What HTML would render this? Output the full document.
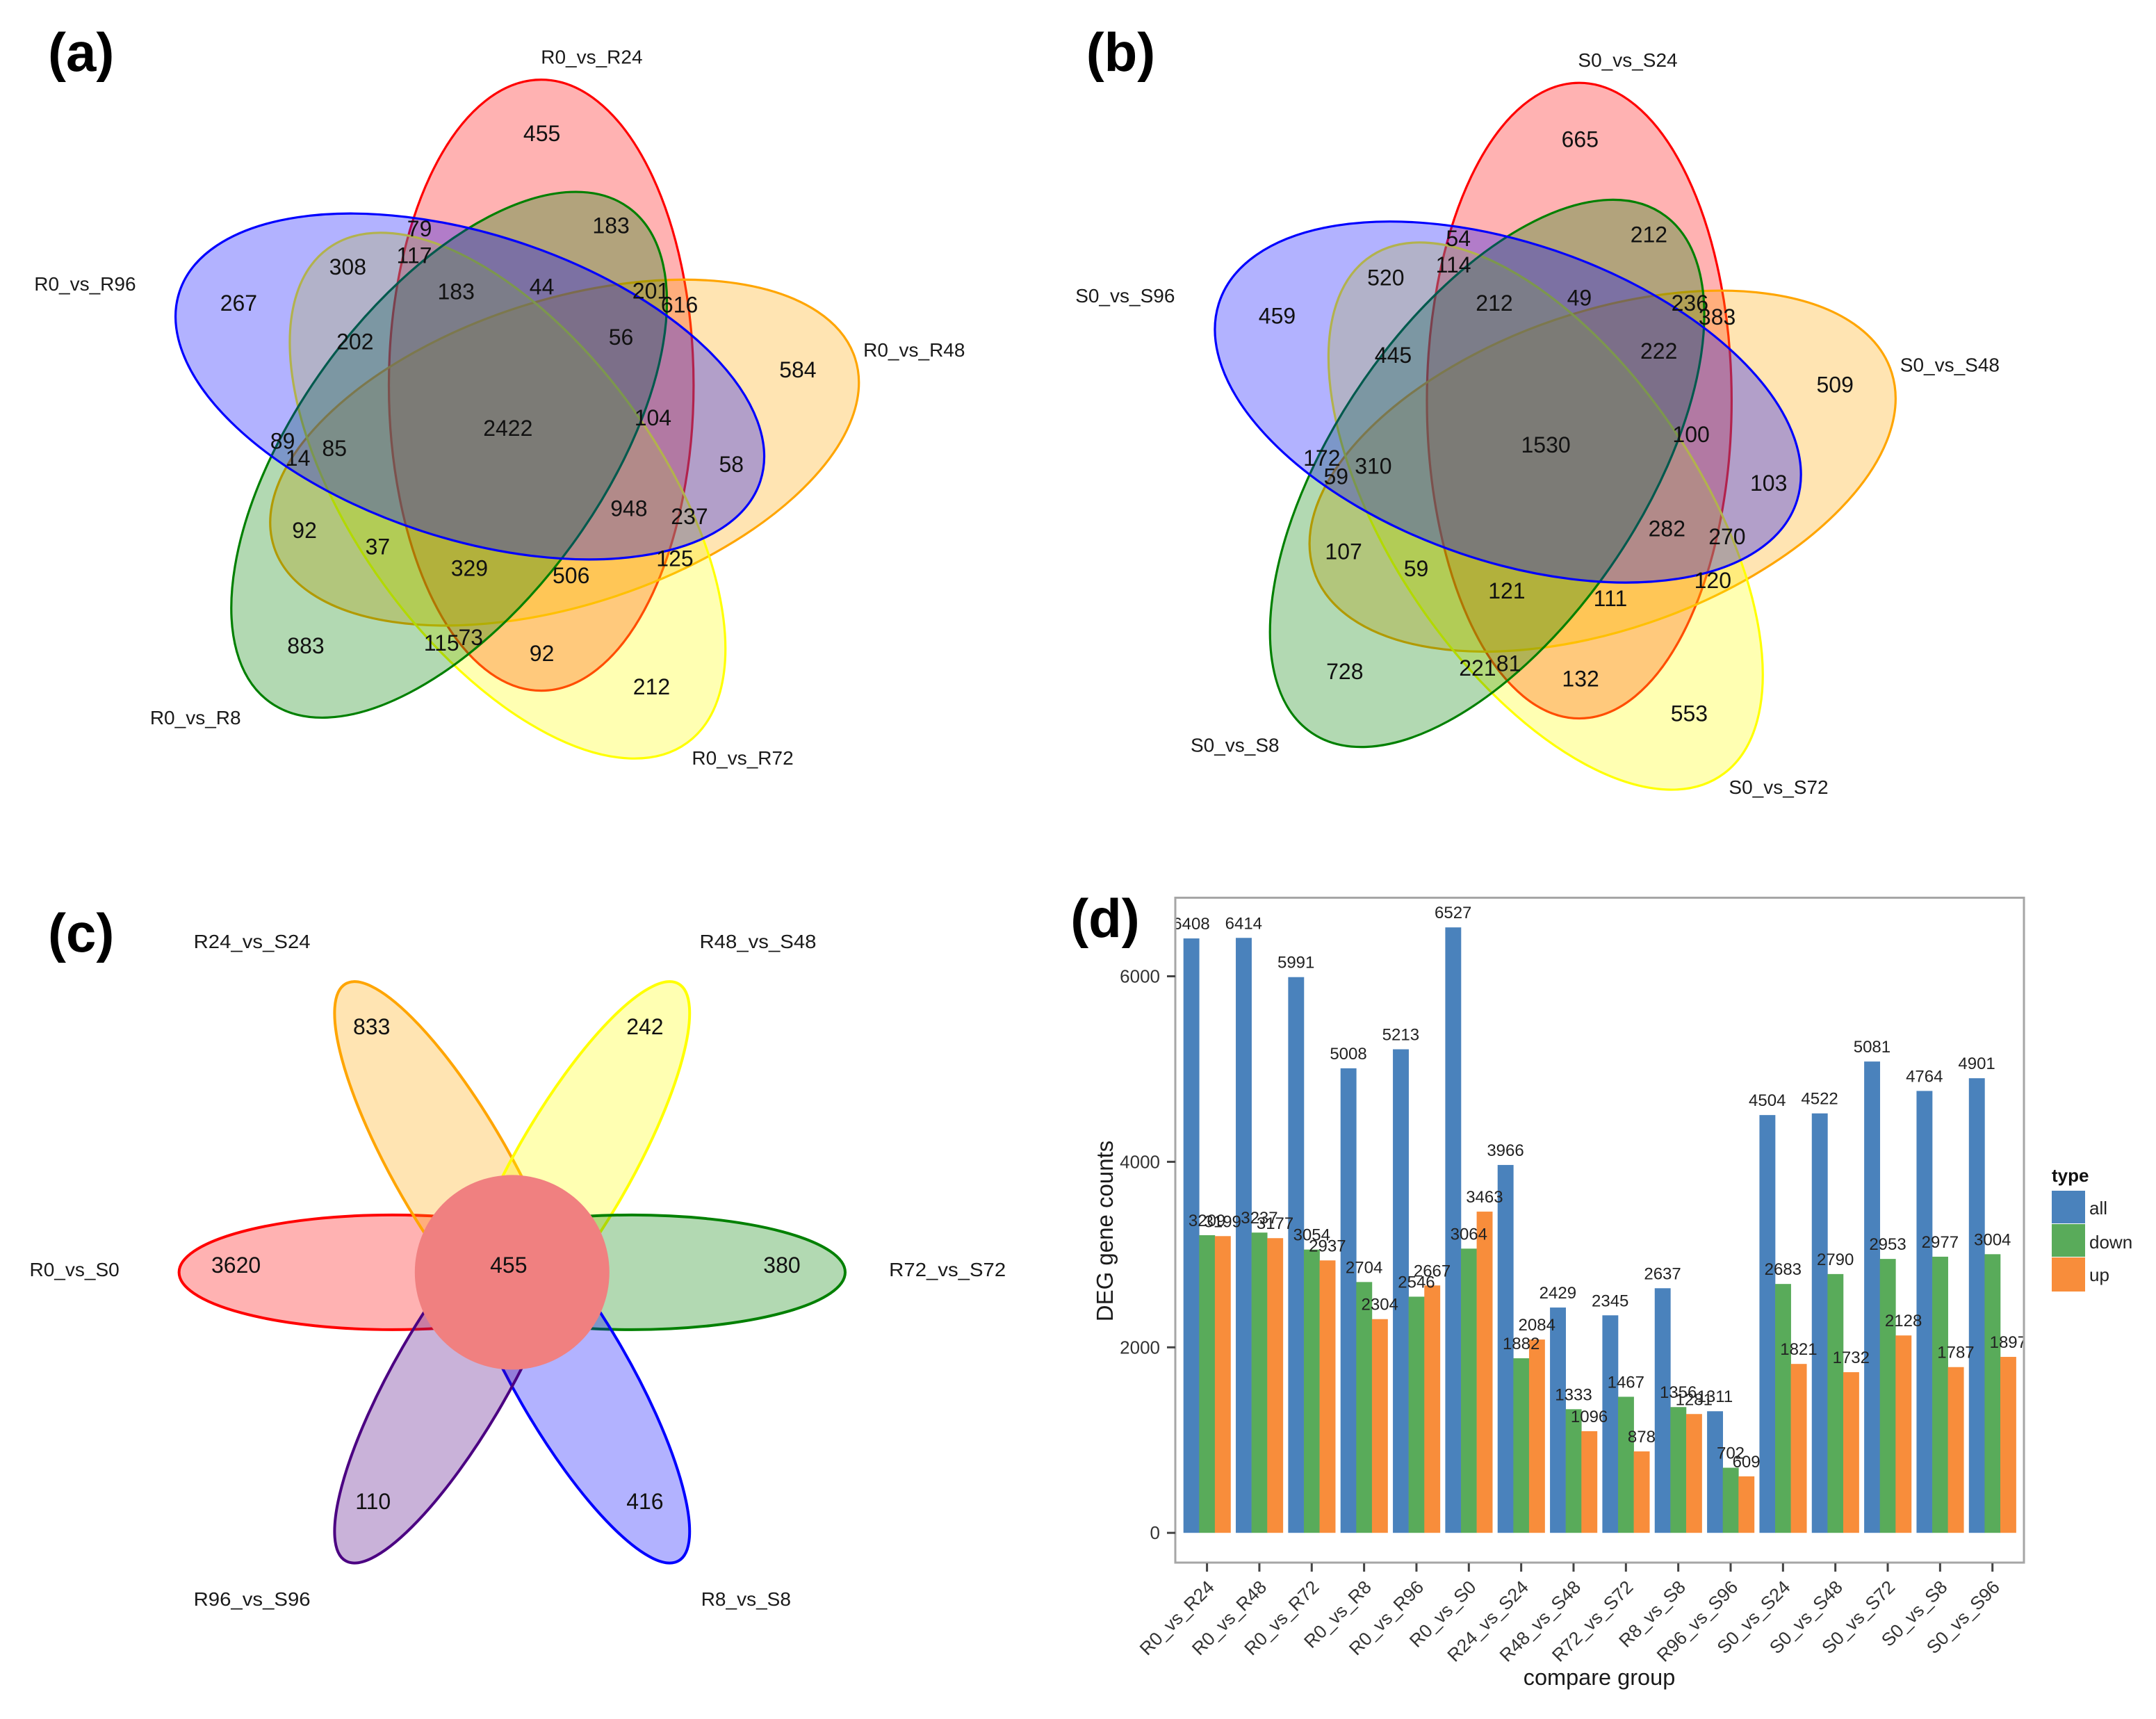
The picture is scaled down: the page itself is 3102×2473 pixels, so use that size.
<!DOCTYPE html>
<html>
<head>
<meta charset="utf-8">
<title>Venn diagrams and DEG gene counts</title>
<style>
html,body{margin:0;padding:0;background:#fff;}
svg{display:block;}
text{font-family:"Liberation Sans",sans-serif;}
.num{font-size:32px;fill:#111;text-anchor:middle;dominant-baseline:central;}
.lab{font-size:28px;fill:#1a1a1a;text-anchor:middle;dominant-baseline:central;}
.pan{font-size:78px;font-weight:bold;fill:#000;text-anchor:middle;dominant-baseline:central;}
.e{stroke-width:3.2;vector-effect:non-scaling-stroke;}
.p{stroke-width:4;}
</style>
</head>
<body>
<svg id="figure" xmlns="http://www.w3.org/2000/svg" width="3102" height="2473" viewBox="0 0 3102 2473">
<rect width="3102" height="2473" fill="#fff"/>

<!-- PANEL A -->
<g>
<g transform="translate(728.7,625.7)">
<ellipse class="e" cx="50" cy="-71.6" rx="219.2" ry="439.5" fill="#ff0000" fill-opacity=".3" stroke="#ff0000"/>
<ellipse class="e" cx="50" cy="-71.6" rx="219.2" ry="439.5" transform="rotate(72)" fill="#ffa500" fill-opacity=".3" stroke="#ffa500"/>
<ellipse class="e" cx="50" cy="-71.6" rx="219.2" ry="439.5" transform="rotate(144)" fill="#ffff00" fill-opacity=".3" stroke="#ffff00"/>
<ellipse class="e" cx="50" cy="-71.6" rx="219.2" ry="439.5" transform="rotate(216)" fill="#008000" fill-opacity=".3" stroke="#008000"/>
<ellipse class="e" cx="50" cy="-71.6" rx="219.2" ry="439.5" transform="rotate(288)" fill="#0000ff" fill-opacity=".3" stroke="#0000ff"/>
</g>
<text class="pan" x="116.7" y="75">(a)</text>
<text class="lab" x="851.4" y="81.9">R0_vs_R24</text>
<text class="lab" x="122.4" y="408.7">R0_vs_R96</text>
<text class="lab" x="1315.3" y="503.6">R0_vs_R48</text>
<text class="lab" x="281.2" y="1032.4">R0_vs_R8</text>
<text class="lab" x="1068.5" y="1090.5">R0_vs_R72</text>
<g>
<text class="num" x="779.6" y="192.1">455</text>
<text class="num" x="879.1" y="324.5">183</text>
<text class="num" x="603.6" y="329.1">79</text>
<text class="num" x="596" y="367.3">117</text>
<text class="num" x="500.3" y="384.2">308</text>
<text class="num" x="656.2" y="419.4">183</text>
<text class="num" x="779.6" y="412.5">44</text>
<text class="num" x="936.5" y="418.6">201</text>
<text class="num" x="977.6" y="438.5">616</text>
<text class="num" x="343.4" y="436.2">267</text>
<text class="num" x="510.8" y="491.3">202</text>
<text class="num" x="893.5" y="485.2">56</text>
<text class="num" x="1147.9" y="531.9">584</text>
<text class="num" x="939.4" y="600.8">104</text>
<text class="num" x="730.8" y="616.1">2422</text>
<text class="num" x="406.6" y="634.4">89</text>
<text class="num" x="428.6" y="658.9">14</text>
<text class="num" x="481.2" y="645.2">85</text>
<text class="num" x="1052.3" y="668.1">58</text>
<text class="num" x="904.9" y="731.6">948</text>
<text class="num" x="992" y="743.1">237</text>
<text class="num" x="438.1" y="763">92</text>
<text class="num" x="543.4" y="786.7">37</text>
<text class="num" x="971" y="803.6">125</text>
<text class="num" x="675.4" y="817.3">329</text>
<text class="num" x="821.7" y="828.1">506</text>
<text class="num" x="440" y="929.1">883</text>
<text class="num" x="635.2" y="925.2">115</text>
<text class="num" x="677.3" y="916.8">73</text>
<text class="num" x="779.6" y="939.8">92</text>
<text class="num" x="937.5" y="988">212</text>
</g>
</g>

<!-- PANEL B -->
<g>
<g transform="translate(2222.2,651.2) scale(1,1.045)">
<ellipse class="e" cx="50" cy="-71.6" rx="219.2" ry="437.5" fill="#ff0000" fill-opacity=".3" stroke="#ff0000"/>
<ellipse class="e" cx="50" cy="-71.6" rx="219.2" ry="437.5" transform="rotate(72)" fill="#ffa500" fill-opacity=".3" stroke="#ffa500"/>
<ellipse class="e" cx="50" cy="-71.6" rx="219.2" ry="437.5" transform="rotate(144)" fill="#ffff00" fill-opacity=".3" stroke="#ffff00"/>
<ellipse class="e" cx="50" cy="-71.6" rx="219.2" ry="437.5" transform="rotate(216)" fill="#008000" fill-opacity=".3" stroke="#008000"/>
<ellipse class="e" cx="50" cy="-71.6" rx="219.2" ry="437.5" transform="rotate(288)" fill="#0000ff" fill-opacity=".3" stroke="#0000ff"/>
</g>
<text class="pan" x="1612.5" y="75">(b)</text>
<text class="lab" x="2342" y="86.5">S0_vs_S24</text>
<text class="lab" x="1618.8" y="425.5">S0_vs_S96</text>
<text class="lab" x="2805.4" y="525">S0_vs_S48</text>
<text class="lab" x="1776.8" y="1072.2">S0_vs_S8</text>
<text class="lab" x="2559" y="1132.6">S0_vs_S72</text>
<g>
<text class="num" x="2273.3" y="200.5">665</text>
<text class="num" x="2372.4" y="337.5">212</text>
<text class="num" x="2098.2" y="342.9">54</text>
<text class="num" x="2091.1" y="381.1">114</text>
<text class="num" x="1993.8" y="399.5">520</text>
<text class="num" x="2150" y="436.2">212</text>
<text class="num" x="2272.4" y="428.6">49</text>
<text class="num" x="2431.3" y="436.2">236</text>
<text class="num" x="2470.6" y="456.1">383</text>
<text class="num" x="1837.5" y="454.6">459</text>
<text class="num" x="2004.5" y="511.2">445</text>
<text class="num" x="2386.7" y="505.1">222</text>
<text class="num" x="2640.2" y="553.3">509</text>
<text class="num" x="2433.1" y="625.2">100</text>
<text class="num" x="2224.1" y="639.8">1530</text>
<text class="num" x="1901.8" y="658.9">172</text>
<text class="num" x="1922.3" y="685.7">59</text>
<text class="num" x="1975.9" y="670.4">310</text>
<text class="num" x="2544.7" y="694.9">103</text>
<text class="num" x="2398.3" y="760.7">282</text>
<text class="num" x="2484.9" y="772.2">270</text>
<text class="num" x="1933.1" y="793.6">107</text>
<text class="num" x="2037.5" y="818.1">59</text>
<text class="num" x="2464.3" y="834.9">120</text>
<text class="num" x="2167.9" y="850.2">121</text>
<text class="num" x="2317" y="860.9">111</text>
<text class="num" x="1934.8" y="965.8">728</text>
<text class="num" x="2125.9" y="961.2">221</text>
<text class="num" x="2170.6" y="954.3">81</text>
<text class="num" x="2274.1" y="976.5">132</text>
<text class="num" x="2430.4" y="1026.3">553</text>
</g>
</g>

<!-- PANEL C -->
<g>
<g transform="translate(736.8,1830.4)">
<ellipse class="p" cx="-172.2" cy="0" rx="307" ry="82.5" fill="#ff0000" fill-opacity=".3" stroke="#ff0000"/>
<ellipse class="p" cx="-172.2" cy="0" rx="307" ry="82.5" transform="rotate(60)" fill="#ffa500" fill-opacity=".3" stroke="#ffa500"/>
<ellipse class="p" cx="-172.2" cy="0" rx="307" ry="82.5" transform="rotate(120)" fill="#ffff00" fill-opacity=".3" stroke="#ffff00"/>
<ellipse class="p" cx="-172.2" cy="0" rx="307" ry="82.5" transform="rotate(180)" fill="#008000" fill-opacity=".3" stroke="#008000"/>
<ellipse class="p" cx="-172.2" cy="0" rx="307" ry="82.5" transform="rotate(240)" fill="#0000ff" fill-opacity=".3" stroke="#0000ff"/>
<ellipse class="p" cx="-172.2" cy="0" rx="307" ry="82.5" transform="rotate(300)" fill="#4b0082" fill-opacity=".3" stroke="#4b0082"/>
<circle cx="0" cy="0" r="140" fill="#f08080"/>
</g>
<text class="pan" x="116.7" y="1342">(c)</text>
<text class="lab" x="362.6" y="1354.4" textLength="168" lengthAdjust="spacingAndGlyphs">R24_vs_S24</text>
<text class="lab" x="1090.5" y="1354.4" textLength="168" lengthAdjust="spacingAndGlyphs">R48_vs_S48</text>
<text class="lab" x="107.1" y="1826.5">R0_vs_S0</text>
<text class="lab" x="1363.2" y="1826.5" textLength="168" lengthAdjust="spacingAndGlyphs">R72_vs_S72</text>
<text class="lab" x="362.6" y="2300.7" textLength="168" lengthAdjust="spacingAndGlyphs">R96_vs_S96</text>
<text class="lab" x="1073.3" y="2300.7">R8_vs_S8</text>
<text class="num" x="534.7" y="1476.9">833</text>
<text class="num" x="927.9" y="1476.9">242</text>
<text class="num" x="339.6" y="1820">3620</text>
<text class="num" x="731.8" y="1820">455</text>
<text class="num" x="1125" y="1820">380</text>
<text class="num" x="536.7" y="2160.1">110</text>
<text class="num" x="927.9" y="2160.1">416</text>
</g>

<!-- PANEL D -->
<g id="panel-d">
<defs><clipPath id="plot-clip"><rect x="1691" y="1291" width="1221" height="957"/></clipPath></defs>
<text class="pan" x="1590" y="1321">(d)</text>
<g id="plot-marks"></g>
<rect x="1691" y="1291.5" width="1221" height="956.5" fill="none" stroke="#a6a6a6" stroke-width="3"/>
<g id="axis-marks"></g>
<text font-size="33" fill="#1a1a1a" text-anchor="middle" transform="translate(1601,1771) rotate(-90)">DEG gene counts</text>
<text font-size="32.5" fill="#1a1a1a" text-anchor="middle" x="2301" y="2424">compare group</text>
<g>
<text font-size="26" font-weight="bold" fill="#111" x="2952" y="1700">type</text>
<rect x="2952" y="1713" width="48" height="47" fill="#4a82bc"/>
<rect x="2952" y="1761" width="48" height="47" fill="#59ab5a"/>
<rect x="2952" y="1809" width="48" height="49" fill="#f88d3b"/>
<text font-size="26" fill="#222" x="3006" y="1747">all</text>
<text font-size="26" fill="#222" x="3006" y="1796">down</text>
<text font-size="26" fill="#222" x="3006" y="1843">up</text>
</g>
</g>
</svg>

<script>
const categories = ["R0_vs_R24","R0_vs_R48","R0_vs_R72","R0_vs_R8","R0_vs_R96","R0_vs_S0","R24_vs_S24","R48_vs_S48","R72_vs_S72","R8_vs_S8","R96_vs_S96","S0_vs_S24","S0_vs_S48","S0_vs_S72","S0_vs_S8","S0_vs_S96"];
const allCounts = [6408,6414,5991,5008,5213,6527,3966,2429,2345,2637,1311,4504,4522,5081,4764,4901];
const downCounts = [3209,3237,3054,2704,2546,3064,1882,1333,1467,1356,702,2683,2790,2953,2977,3004];
const upCounts = [3199,3177,2937,2304,2667,3463,2084,1096,878,1281,609,1821,1732,2128,1787,1897];
const yTicks = [0,2000,4000,6000];

const SVG_NS = "http://www.w3.org/2000/svg";
const seriesNames = ["all","down","up"];
const seriesColors = ["#4a82bc","#59ab5a","#f88d3b"];
const seriesValues = [allCounts, downCounts, upCounts];

function xCenter(i){ return 1736.6 + i * 75.34; }
function yPos(v){ return 2205.2 - v * 0.13345; }
const barWidth = 75.34 * 0.9 / 3;

const marks = document.getElementById("plot-marks");
marks.setAttribute("clip-path", "url(#plot-clip)");
const axes = document.getElementById("axis-marks");

seriesValues.forEach(function(values, s){
  values.forEach(function(v, i){
    const left = xCenter(i) - 1.5 * barWidth + s * barWidth;
    const bar = document.createElementNS(SVG_NS, "rect");
    bar.setAttribute("x", left);
    bar.setAttribute("y", yPos(v));
    bar.setAttribute("width", barWidth + 0.3);
    bar.setAttribute("height", yPos(0) - yPos(v));
    bar.setAttribute("fill", seriesColors[s]);
    
    
    marks.appendChild(bar);
  });
});

seriesValues.forEach(function(values, s){
  values.forEach(function(v, i){
    const left = xCenter(i) - 1.5 * barWidth + s * barWidth;
    const label = document.createElementNS(SVG_NS, "text");
    label.setAttribute("x", left + barWidth / 2);
    label.setAttribute("y", yPos(v) - 13);
    label.setAttribute("font-size", "24");
    label.setAttribute("fill", "#222");
    label.setAttribute("text-anchor", "middle");
    label.textContent = String(v);
    
    
    marks.appendChild(label);
  });
});

yTicks.forEach(function(t){
  const tick = document.createElementNS(SVG_NS, "line");
  tick.setAttribute("x1", 1679);
  tick.setAttribute("x2", 1691);
  tick.setAttribute("y1", yPos(t));
  tick.setAttribute("y2", yPos(t));
  tick.setAttribute("stroke", "#444");
  tick.setAttribute("stroke-width", "3");
  
  
  axes.appendChild(tick);
  const label = document.createElementNS(SVG_NS, "text");
  label.setAttribute("x", 1669);
  label.setAttribute("y", yPos(t) + 9);
  label.setAttribute("font-size", "26");
  label.setAttribute("fill", "#333");
  label.setAttribute("text-anchor", "end");
  label.textContent = String(t);
  
  
  axes.appendChild(label);
});

categories.forEach(function(c, i){
  const tick = document.createElementNS(SVG_NS, "line");
  tick.setAttribute("x1", xCenter(i));
  tick.setAttribute("x2", xCenter(i));
  tick.setAttribute("y1", 2249);
  tick.setAttribute("y2", 2261);
  tick.setAttribute("stroke", "#444");
  tick.setAttribute("stroke-width", "3");
  
  
  axes.appendChild(tick);
  const label = document.createElementNS(SVG_NS, "text");
  label.setAttribute("font-size", "26.5");
  label.setAttribute("fill", "#333");
  label.setAttribute("text-anchor", "end");
  label.setAttribute("transform", "translate(" + (xCenter(i) + 12) + ",2285) rotate(-45)");
  label.textContent = c;
  
  
  axes.appendChild(label);
});
</script>
</body>
</html>
